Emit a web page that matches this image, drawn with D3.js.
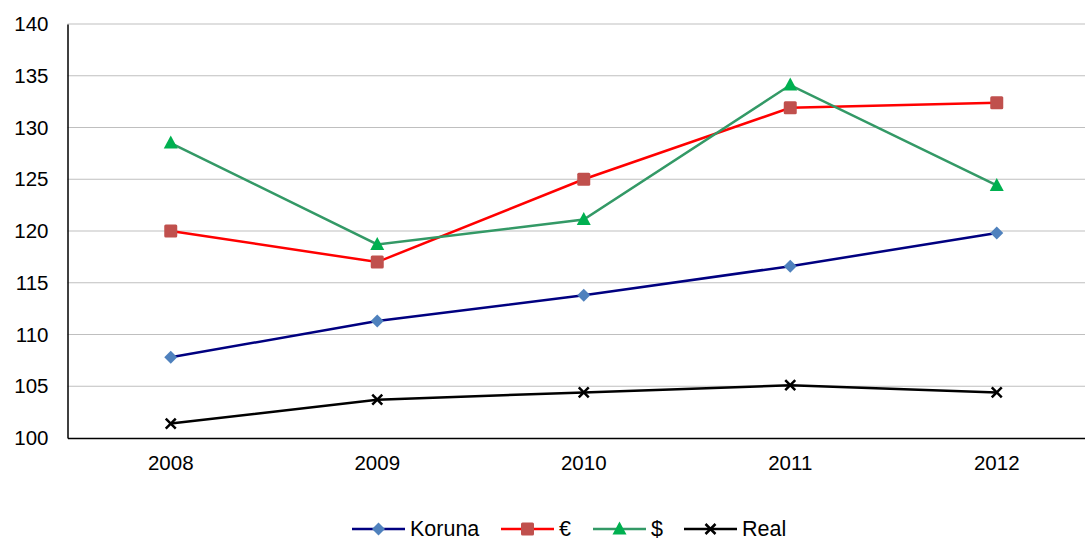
<!DOCTYPE html>
<html><head><meta charset="utf-8">
<script src="https://cdn.jsdelivr.net/npm/d3@7"></script>
<style>body{margin:0;background:#fff;}svg{display:block;font-family:"Liberation Sans",Arial,sans-serif;}</style>
</head><body>
<svg id="c" width="1085" height="540"></svg>
<script>
const years = ["2008","2009","2010","2011","2012"];
const koruna = [107.8, 111.3, 113.8, 116.6, 119.8];
const euro = [120.0, 117.0, 125.0, 131.9, 132.4];
const dollar = [128.5, 118.7, 121.1, 134.1, 124.4];
const real = [101.4, 103.7, 104.4, 105.1, 104.4];
const yTicks = [100, 105, 110, 115, 120, 125, 130, 135, 140];
const seriesNames = ["Koruna", "€", "$", "Real"];

const series = [
  {name: seriesNames[0], values: koruna, line: "#000080", fill: "#4F81BD", sym: "diamond"},
  {name: seriesNames[1], values: euro, line: "#FF0000", fill: "#C0504D", sym: "square"},
  {name: seriesNames[2], values: dollar, line: "#339966", fill: "#00B050", sym: "triangle"},
  {name: seriesNames[3], values: real, line: "#000000", fill: "#000000", sym: "cross"}
];

const svg = d3.select("#c");
const L = 67.5, R = 1100, T = 24, B = 438;
const x = d3.scaleBand().domain(years).range([L, R]);
const y = d3.scaleLinear().domain([100, 140]).range([B, T]);

// gridlines
svg.append("g").selectAll("line").data(yTicks.filter(d => d !== 100)).join("line")
  .attr("x1", L).attr("x2", 1085).attr("y1", d => y(d)).attr("y2", d => y(d))
  .attr("stroke", "#BFBFBF").attr("stroke-width", 1.2);

// y axis
const ya = svg.append("g").attr("transform", `translate(${L},0)`)
  .call(d3.axisLeft(y).tickValues(yTicks).tickSize(0).tickPadding(19));
ya.select(".domain").attr("stroke", "#000").attr("stroke-width", 1.5);
ya.selectAll("text").attr("font-size", 20.5).attr("fill", "#000").attr("font-family", "Liberation Sans, Arial, sans-serif");

// x axis
const xa = svg.append("g").attr("transform", `translate(0,${B})`)
  .call(d3.axisBottom(x).tickSize(0).tickPadding(17));
xa.select(".domain").attr("stroke", "#000").attr("stroke-width", 1.5);
xa.selectAll("text").attr("font-size", 20.5).attr("fill", "#000").attr("font-family", "Liberation Sans, Arial, sans-serif");

const cx = d => x(d) + x.bandwidth() / 2;
const line = d3.line().x((d, i) => cx(years[i])).y(d => y(d));

function marker(g, s, px, py) {
  if (s.sym === "diamond") {
    g.append("path").attr("d", `M${px},${py-6.5}L${px+6.5},${py}L${px},${py+6.5}L${px-6.5},${py}Z`).attr("fill", s.fill);
  } else if (s.sym === "square") {
    g.append("rect").attr("x", px-6.5).attr("y", py-6.5).attr("width", 13).attr("height", 13).attr("rx", 1.5).attr("fill", s.fill);
  } else if (s.sym === "triangle") {
    g.append("path").attr("d", `M${px},${py-7.5}L${px+7},${py+5.5}L${px-7},${py+5.5}Z`).attr("fill", s.fill);
  } else {
    g.append("path").attr("d", `M${px-5},${py-5}L${px+5},${py+5}M${px+5},${py-5}L${px-5},${py+5}`).attr("stroke", s.fill).attr("stroke-width", 2.5);
  }
}

series.forEach(s => {
  const g = svg.append("g");
  g.append("path").datum(s.values).attr("d", line).attr("fill", "none").attr("stroke", s.line).attr("stroke-width", 2.5);
  s.values.forEach((v, i) => marker(g, s, cx(years[i]), y(v)));
});

// legend
const legX = [352, 501, 593, 684];
const legY = 529;
series.forEach((s, i) => {
  const g = svg.append("g");
  const x0 = legX[i];
  g.append("line").attr("x1", x0).attr("x2", x0 + 53).attr("y1", legY).attr("y2", legY).attr("stroke", s.line).attr("stroke-width", 2.5);
  marker(g, s, x0 + 26.5, legY);
  g.append("text").attr("x", x0 + 58).attr("y", legY).attr("dy", "0.34em").attr("font-size", 21.5).attr("fill", "#000").text(s.name);
});
</script>
</body></html>
